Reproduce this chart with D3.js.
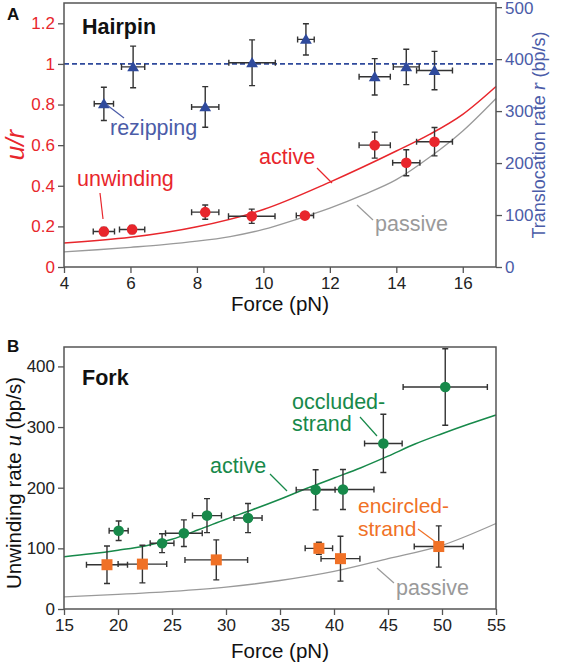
<!DOCTYPE html>
<html><head><meta charset="utf-8">
<script src="https://cdn.jsdelivr.net/npm/d3@7"></script>
<style>body{margin:0;background:#fff}svg{display:block}text{font-family:"Liberation Sans",Arial,sans-serif}</style>
</head><body><svg id="c" width="561" height="663"></svg>
<script>
// ---------- Panel A: Hairpin ----------
const unwindF    = [5.2, 6.05, 8.25, 9.65, 11.25, 13.35, 14.3, 15.15];
const unwindFerr = [0.32, 0.38, 0.41, 0.7, 0.26, 0.47, 0.41, 0.54];
const unwindUR   = [0.175, 0.185, 0.27, 0.25, 0.253, 0.60, 0.513, 0.617];
const unwindURerr= [0.02, 0.02, 0.035, 0.035, 0.015, 0.064, 0.064, 0.07];

const rezipF     = [5.2, 6.08, 8.25, 9.66, 11.28, 13.35, 14.3, 15.15];
const rezipFerr  = [0.29, 0.35, 0.41, 0.7, 0.25, 0.47, 0.39, 0.54];
const rezipRate  = [314, 385, 308, 393, 438, 366, 385, 378];   // bp/s (right axis)
const rezipErr   = [32, 40, 39, 44, 30, 35, 34, 37];

const activeAF   = [4, 6, 8, 10, 12, 14, 15, 16, 17];
const activeAUR  = [0.118, 0.146, 0.198, 0.283, 0.418, 0.571, 0.653, 0.752, 0.889];
const passiveAF  = [4, 5, 6, 7, 8, 9, 10, 11, 12, 13, 14, 15, 16, 17];
const passiveAUR = [0.074, 0.085, 0.097, 0.11, 0.127, 0.15, 0.185, 0.235, 0.29, 0.355, 0.43, 0.54, 0.67, 0.83];
const ratioLine  = 1;
const xTicksA    = [4, 6, 8, 10, 12, 14, 16];
const yTicksA    = [0, 0.2, 0.4, 0.6, 0.8, 1, 1.2];
const y2TicksA   = [0, 100, 200, 300, 400, 500];

// ---------- Panel B: Fork ----------
const occF    = [20.06, 24.08, 26.1, 28.24, 32.04, 38.3, 40.83, 44.57, 50.3];
const occFerr = [0.88, 1.1, 1.7, 1.34, 1.3, 1.8, 2.87, 1.74, 3.9];
const occU    = [129, 108.5, 125, 154, 150, 196.5, 197, 273, 366];
const occUerr = [16, 15.6, 22, 28, 24, 33, 33, 48, 63];

const encF    = [18.98, 22.26, 29.1, 38.6, 40.6, 49.7];
const encFerr = [1.9, 2.25, 2.9, 1.27, 1.8, 2.27];
const encU    = [73, 74, 81, 100, 83, 103];
const encUerr = [31, 31, 33, 10, 37, 34];

const activeBF  = [15, 17.5, 20, 22.5, 25, 27.5, 30, 32.5, 35, 37.5, 40, 42.5, 45, 47.5, 50, 52.5, 55];
const activeBU  = [86, 91, 97, 104, 115, 131, 148, 164, 181, 199, 216, 233, 252, 272, 289, 305, 320];
const passiveBF = [15, 20, 25, 30, 35, 40, 45, 50, 55];
const passiveBU = [20, 24, 29, 36, 47, 62, 83, 105, 141];
const xTicksB   = [15, 20, 25, 30, 35, 40, 45, 50, 55];
const yTicksB   = [0, 100, 200, 300, 400];

// ---------- styles ----------
const RED = "#e8262c", BLUE = "#2f4a9c", BLUET = "#4b5ca8", GREEN = "#17894a", ORANGE = "#f07126", GREY = "#9a9a9a", ERR = "#333", AX = "#555";
const svg = d3.select("#c");

function frame(g, x, y) {
  const [x0, x1] = x.range(), [y0, y1] = y.range();
  g.append("rect").attr("x", x0).attr("y", y1).attr("width", x1 - x0).attr("height", y0 - y1)
    .attr("fill", "none").attr("stroke", AX).attr("stroke-width", 1.5);
}
function styleAxis(sel, color) {
  sel.select(".domain").remove();
  sel.selectAll(".tick line").attr("stroke", AX).attr("stroke-width", 1.3);
  sel.selectAll(".tick text").attr("fill", color).attr("font-size", 17)
     .attr("font-family", "'Liberation Sans', Arial, sans-serif");
}
function errBars(g, xs, xe, ys, ye, x, y) {
  const cap = 3;
  xs.forEach((f, i) => {
    const cx = x(f), cy = y(ys[i]);
    const xl = x(f - xe[i]), xr = x(f + xe[i]), yt = y(ys[i] + ye[i]), yb = y(ys[i] - ye[i]);
    const p = `M${xl},${cy}H${xr}M${xl},${cy - cap}V${cy + cap}M${xr},${cy - cap}V${cy + cap}` +
              `M${cx},${yt}V${yb}M${cx - cap},${yt}H${cx + cap}M${cx - cap},${yb}H${cx + cap}`;
    g.append("path").attr("d", p).attr("stroke", ERR).attr("stroke-width", 1.4).attr("fill", "none");
  });
}
function label(g, x, y, txt, color, size, opts = {}) {
  const t = g.append("text").attr("x", x).attr("y", y).attr("fill", color).attr("font-size", size).text(txt);
  if (opts.bold) t.attr("font-weight", "bold");
  if (opts.anchor) t.attr("text-anchor", opts.anchor);
  return t;
}
function leader(g, x1, y1, x2, y2, color) {
  g.append("line").attr("x1", x1).attr("y1", y1).attr("x2", x2).attr("y2", y2)
    .attr("stroke", color).attr("stroke-width", 1.2);
}
const ANN = 21.5;

// ================= Panel A =================
{
  const g = svg.append("g");
  const x = d3.scaleLinear().domain([4, 17]).range([64, 496]);
  const y = d3.scaleLinear().domain([0, 1.3]).range([267, 3]);
  const y2 = d3.scaleLinear().domain([0, 508]).range([267, 3]);

  const line = d3.line().curve(d3.curveMonotoneX);
  g.append("path").attr("d", line(passiveAF.map((f, i) => [x(f), y(passiveAUR[i])])))
    .attr("fill", "none").attr("stroke", GREY).attr("stroke-width", 1.3);
  g.append("path").attr("d", line(activeAF.map((f, i) => [x(f), y(activeAUR[i])])))
    .attr("fill", "none").attr("stroke", RED).attr("stroke-width", 1.5);
  g.append("line").attr("x1", x(4)).attr("x2", x(17)).attr("y1", y(ratioLine)).attr("y2", y(ratioLine))
    .attr("stroke", BLUE).attr("stroke-width", 1.6).attr("stroke-dasharray", "5,3");

  frame(g, x, y);
  g.append("g").attr("transform", "translate(0,267)")
    .call(d3.axisBottom(x).tickValues(xTicksA).tickSizeOuter(0).tickSize(6).tickPadding(4))
    .call(s => styleAxis(s, "#222"));
  g.append("g").attr("transform", "translate(64,0)")
    .call(d3.axisLeft(y).tickValues(yTicksA).tickFormat(d3.format("~g")).tickSizeOuter(0).tickSize(6).tickPadding(3))
    .call(s => styleAxis(s, RED));
  g.append("g").attr("transform", "translate(496,0)")
    .call(d3.axisRight(y2).tickValues(y2TicksA).tickSizeOuter(0).tickSize(6).tickPadding(3))
    .call(s => styleAxis(s, BLUET))
    .call(s => s.selectAll(".tick text").filter(d => d === 500).attr("dy", "0.4em"));

  errBars(g, rezipF, rezipFerr, rezipRate, rezipErr, x, y2);
  errBars(g, unwindF, unwindFerr, unwindUR, unwindURerr, x, y);
  const tri = d3.symbol().type(d3.symbolTriangle).size(60);
  rezipF.forEach((f, i) => g.append("path").attr("d", tri)
    .attr("transform", `translate(${x(f)},${y2(rezipRate[i]) + 1})`).attr("fill", BLUE));
  unwindF.forEach((f, i) => g.append("circle").attr("cx", x(f)).attr("cy", y(unwindUR[i]))
    .attr("r", 5.3).attr("fill", RED));

  // labels
  label(g, 7, 20, "A", "#111", 17, {bold: true});
  label(g, 82, 34, "Hairpin", "#111", 21.5, {bold: true});
  label(g, 110, 135, "rezipping", BLUET, ANN);
  leader(g, 107, 105, 124, 118, BLUET);
  label(g, 77, 186, "unwinding", RED, ANN);
  leader(g, 100, 193, 103, 219, RED);
  label(g, 259, 164, "active", RED, ANN);
  leader(g, 317, 168, 332, 183, RED);
  label(g, 375, 231, "passive", GREY, ANN);
  leader(g, 357, 205, 373, 220, GREY);
  label(g, 280, 311, "Force (pN)", "#111", 20.5, {anchor: "middle"});
  // left y title u/r
  g.append("text").attr("transform", "translate(24,145) rotate(-90)").attr("text-anchor", "middle")
    .attr("fill", RED).attr("font-size", 26).attr("font-style", "italic")
    .attr("font-family", "'Liberation Serif','DejaVu Serif',serif").text("u/r");
  const rt = g.append("text").attr("transform", "translate(545,135) rotate(-90)").attr("text-anchor", "middle")
    .attr("fill", BLUET).attr("font-size", 18);
  rt.append("tspan").text("Translocation rate ");
  rt.append("tspan").attr("font-style", "italic").attr("font-family", "'Liberation Serif',serif").attr("font-size", 20).text("r");
  rt.append("tspan").text(" (bp/s)");
}

// ================= Panel B =================
{
  const g = svg.append("g");
  const x = d3.scaleLinear().domain([15, 55]).range([64, 496]);
  const y = d3.scaleLinear().domain([0, 432]).range([609, 347]);
  const line = d3.line().curve(d3.curveMonotoneX);
  g.append("path").attr("d", line(passiveBF.map((f, i) => [x(f), y(passiveBU[i])])))
    .attr("fill", "none").attr("stroke", GREY).attr("stroke-width", 1.3);
  g.append("path").attr("d", line(activeBF.map((f, i) => [x(f), y(activeBU[i])])))
    .attr("fill", "none").attr("stroke", GREEN).attr("stroke-width", 1.5);

  frame(g, x, y);
  g.append("g").attr("transform", "translate(0,609)")
    .call(d3.axisBottom(x).tickValues(xTicksB).tickSizeOuter(0).tickSize(6).tickPadding(4))
    .call(s => styleAxis(s, "#222"));
  g.append("g").attr("transform", "translate(64,0)")
    .call(d3.axisLeft(y).tickValues(yTicksB).tickSizeOuter(0).tickSize(6).tickPadding(3))
    .call(s => styleAxis(s, "#222"));

  errBars(g, encF, encFerr, encU, encUerr, x, y);
  errBars(g, occF, occFerr, occU, occUerr, x, y);
  occF.forEach((f, i) => g.append("circle").attr("cx", x(f)).attr("cy", y(occU[i]))
    .attr("r", 5.3).attr("fill", GREEN));
  encF.forEach((f, i) => g.append("rect").attr("x", x(f) - 5.5).attr("y", y(encU[i]) - 5.5)
    .attr("width", 11).attr("height", 11).attr("fill", ORANGE));

  label(g, 7, 352, "B", "#111", 17, {bold: true});
  label(g, 82, 385, "Fork", "#111", 21.5, {bold: true});
  label(g, 292, 409, "occluded-", GREEN, ANN);
  label(g, 292, 431, "strand", GREEN, ANN);
  leader(g, 360, 417, 377, 436, GREEN);
  label(g, 210, 473, "active", GREEN, ANN);
  leader(g, 270, 474, 287, 491, GREEN);
  label(g, 358, 513, "encircled-", ORANGE, 21);
  label(g, 358, 536, "strand", ORANGE, 21);
  leader(g, 418, 529, 437, 543, ORANGE);
  label(g, 396, 595, "passive", GREY, ANN);
  leader(g, 377, 568, 394, 583, GREY);
  label(g, 280, 658, "Force (pN)", "#111", 20.5, {anchor: "middle"});
  const lt = g.append("text").attr("transform", "translate(21,483) rotate(-90)").attr("text-anchor", "middle")
    .attr("fill", "#111").attr("font-size", 20.5);
  lt.append("tspan").text("Unwinding rate ");
  lt.append("tspan").attr("font-style", "italic").attr("font-family", "'Liberation Serif',serif").attr("font-size", 23).text("u");
  lt.append("tspan").text(" (bp/s)");
}
</script></body></html>
